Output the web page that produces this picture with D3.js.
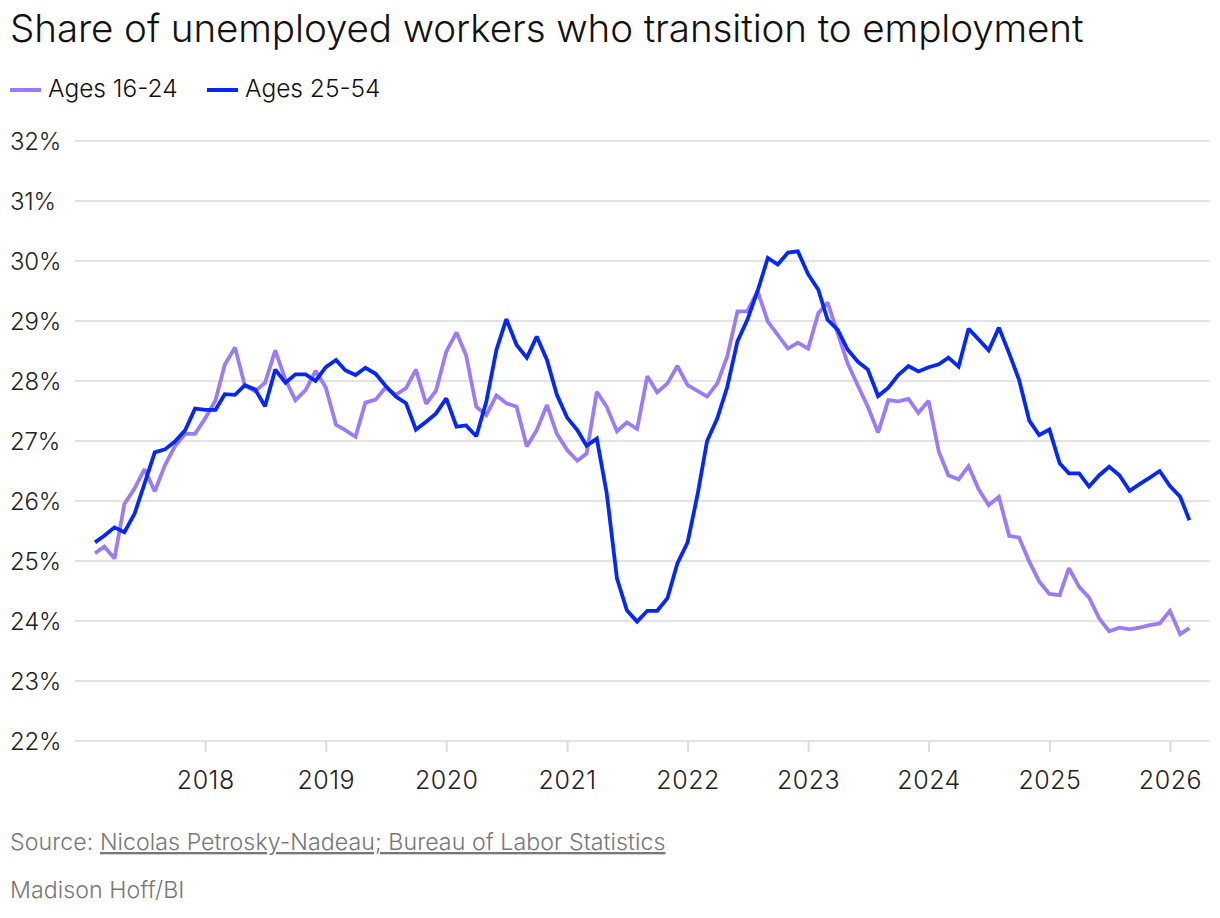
<!DOCTYPE html>
<html>
<head>
<meta charset="utf-8">
<script src="https://cdn.jsdelivr.net/npm/d3@7"></script>
<style>
  body { margin: 0; background: #fff; }
  svg text { font-family: Inter, "Noto Sans", sans-serif; font-weight: 300; }
</style>
</head>
<body>
<div id="chart"></div>
<script>
// monthly series, Feb 2017 -> Mar 2026
const months = d3.timeMonth.range(new Date(2017, 1, 1), new Date(2026, 3, 1));

const youth = [
  25.13, 25.24, 25.04, 25.95, 26.21, 26.53, 26.16, 26.60, 26.91, 27.12, 27.12,
  27.38, 27.68, 28.27, 28.56, 27.92, 27.83, 27.97, 28.51, 28.02, 27.68, 27.85, 28.17,
  27.89, 27.27, 27.18, 27.07, 27.64, 27.69, 27.89, 27.77, 27.88, 28.19, 27.62, 27.84,
  28.49, 28.81, 28.43, 27.57, 27.43, 27.76, 27.63, 27.57, 26.91, 27.18, 27.60, 27.12,
  26.85, 26.67, 26.79, 27.82, 27.57, 27.16, 27.31, 27.20, 28.08, 27.81, 27.96, 28.25,
  27.93, 27.83, 27.74, 27.96, 28.41, 29.16, 29.16, 29.50, 28.99, 28.77, 28.54, 28.64,
  28.54, 29.13, 29.31, 28.79, 28.29, 27.92, 27.57, 27.14, 27.68, 27.66, 27.70, 27.47,
  27.67, 26.82, 26.43, 26.36, 26.58, 26.19, 25.93, 26.07, 25.42, 25.39, 24.99, 24.66,
  24.45, 24.43, 24.88, 24.57, 24.39, 24.04, 23.83, 23.89, 23.86, 23.89, 23.93, 23.96,
  24.17, 23.78, 23.88
];

const prime = [
  25.31, 25.42, 25.56, 25.48, 25.79, 26.29, 26.81, 26.86, 26.99, 27.18, 27.54,
  27.52, 27.52, 27.78, 27.77, 27.93, 27.86, 27.58, 28.19, 27.97, 28.11, 28.11, 28.00,
  28.23, 28.35, 28.18, 28.10, 28.22, 28.12, 27.92, 27.74, 27.63, 27.19, 27.32, 27.46,
  27.71, 27.24, 27.26, 27.08, 27.65, 28.52, 29.03, 28.60, 28.39, 28.74, 28.35, 27.77,
  27.39, 27.18, 26.92, 27.04, 26.13, 24.71, 24.18, 23.99, 24.17, 24.17, 24.38, 24.96,
  25.31, 26.13, 27.00, 27.38, 27.90, 28.66, 29.02, 29.50, 30.05, 29.94, 30.14, 30.16,
  29.78, 29.52, 29.02, 28.85, 28.52, 28.32, 28.19, 27.75, 27.89, 28.10, 28.25, 28.16,
  28.23, 28.28, 28.39, 28.24, 28.87, 28.69, 28.51, 28.89, 28.46, 28.02, 27.34, 27.10,
  27.19, 26.63, 26.46, 26.46, 26.24, 26.43, 26.57, 26.43, 26.17, 26.28, 26.39, 26.50,
  26.25, 26.07, 25.68
];

const yTicks = [22, 23, 24, 25, 26, 27, 28, 29, 30, 31, 32];
const xTicks = [2018, 2019, 2020, 2021, 2022, 2023, 2024, 2025, 2026];

const seriesNames = ["Ages 16-24", "Ages 25-54"];
const seriesColors = ["#9b7bfd", "#0527ff"];

const W = 1220, H = 918;
const svg = d3.select("#chart").append("svg")
  .attr("width", W).attr("height", H);

// title
svg.append("text")
  .attr("x", 10).attr("y", 42)
  .style("font-size", "38.6px")
  .style("letter-spacing", "-0.1px")
  .style("fill", "#111")
  .text("Share of unemployed workers who transition to employment");

// legend
const legendX = [10, 207];
seriesNames.forEach((name, i) => {
  const g = svg.append("g").attr("transform", `translate(${legendX[i]},0)`);
  g.append("line")
    .attr("x1", 0).attr("x2", 31).attr("y1", 90).attr("y2", 90)
    .attr("stroke", seriesColors[i]).attr("stroke-width", 4);
  g.append("text")
    .attr("x", 38).attr("y", 97)
    .style("font-size", "24.5px")
    .style("letter-spacing", "0px")
    .style("fill", "#111")
    .text(name);
});

const x = d3.scaleTime()
  .domain([months[0], months[months.length - 1]])
  .range([95, 1189.4]);

const y = d3.scaleLinear()
  .domain([22, 32])
  .range([741, 141]);

// gridlines + y labels
svg.append("g")
  .selectAll("line")
  .data(yTicks)
  .join("line")
    .attr("x1", 75).attr("x2", 1210)
    .attr("y1", d => y(d)).attr("y2", d => y(d))
    .attr("stroke", "#e3e3e3").attr("stroke-width", 2);

svg.append("g")
  .selectAll("text")
  .data(yTicks)
  .join("text")
    .attr("x", 10)
    .attr("y", d => y(d) + 8.5)
    .style("font-size", "24px")
    .style("letter-spacing", "-0.2px")
    .style("fill", "#222")
    .text(d => d + "%");

// x axis
const xAxis = svg.append("g")
  .attr("transform", `translate(0,${y(22)})`)
  .call(d3.axisBottom(x)
    .tickValues(xTicks.map(yr => new Date(yr, 0, 1)))
    .tickFormat(d3.timeFormat("%Y"))
    .tickSize(11)
    .tickPadding(19));
xAxis.select(".domain").remove();
xAxis.selectAll(".tick line").attr("stroke", "#dcdcdc").attr("stroke-width", 2);
xAxis.selectAll(".tick text")
  .style("font-size", "25px")
  .style("letter-spacing", "0.5px")
  .style("font-family", "Inter, 'Noto Sans', sans-serif")
  .style("font-weight", 300)
  .style("fill", "#222");

// lines
const line = d3.line()
  .x((d, i) => x(months[i]))
  .y(d => y(d));

[youth, prime].forEach((vals, i) => {
  svg.append("path")
    .datum(vals)
    .attr("d", line)
    .attr("fill", "none")
    .attr("stroke", seriesColors[i])
    .attr("stroke-width", 3.8)
    .attr("stroke-linejoin", "miter")
    .attr("stroke-miterlimit", 2);
});

// footer
const src = svg.append("text")
  .attr("x", 10).attr("y", 850)
  .style("font-size", "23.2px")
  .style("letter-spacing", "0.05px")
  .style("fill", "#777");
src.append("tspan").text("Source: ");
src.append("tspan")
  .style("text-decoration", "underline")
  .text("Nicolas Petrosky-Nadeau; Bureau of Labor Statistics");

svg.append("text")
  .attr("x", 10).attr("y", 898)
  .style("font-size", "23.2px")
  .style("letter-spacing", "0.05px")
  .style("fill", "#777")
  .text("Madison Hoff/BI");
</script>
</body>
</html>
